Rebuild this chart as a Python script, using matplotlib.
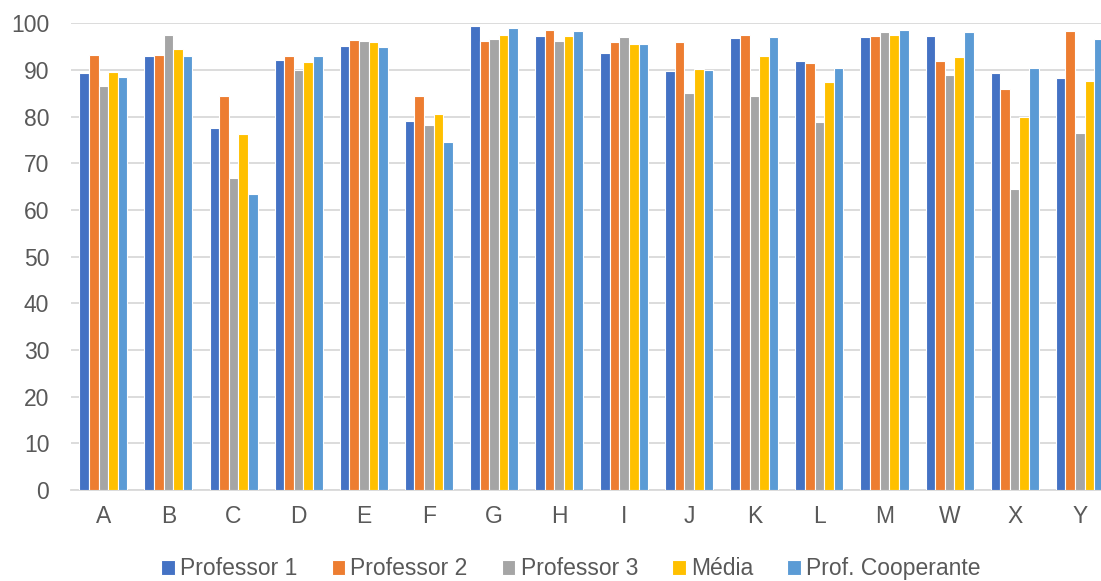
import numpy as np
import matplotlib.pyplot as plt

plt.rcParams['font.family'] = ['Liberation Sans', 'DejaVu Sans']

categorias = ['A', 'B', 'C', 'D', 'E', 'F', 'G', 'H', 'I', 'J', 'K', 'L', 'M', 'W', 'X', 'Y']
professor1 = [89.4, 92.9, 77.6, 92.1, 95.2, 79.1, 99.4, 97.2, 93.6, 89.8, 96.9, 91.9, 97.0, 97.2, 89.4, 88.3]
professor2 = [93.1, 93.2, 84.4, 92.9, 96.4, 84.5, 96.1, 98.6, 95.9, 95.9, 97.5, 91.4, 97.3, 91.9, 85.9, 98.4]
professor3 = [86.6, 97.5, 66.9, 90.0, 96.1, 78.2, 96.7, 96.1, 97.0, 85.1, 84.4, 78.9, 98.1, 88.9, 64.5, 76.5]
media = [89.6, 94.5, 76.3, 91.6, 95.9, 80.5, 97.4, 97.3, 95.5, 90.3, 92.9, 87.4, 97.5, 92.7, 79.9, 87.6]
cooperante = [88.5, 93.0, 63.5, 93.0, 95.0, 74.5, 99.0, 98.4, 95.5, 90.0, 97.0, 90.5, 98.5, 98.1, 90.5, 96.6]

series = [professor1, professor2, professor3, media, cooperante]
nomes = ['Professor 1', 'Professor 2', 'Professor 3', 'Média', 'Prof. Cooperante']
cores = ['#4472C4', '#ED7D31', '#A5A5A5', '#FFC000', '#5B9BD5']

fig = plt.figure(figsize=(11.01, 5.81), dpi=100)
# axes run a bit past the right edge, like the original
ax = fig.add_axes([0.0643, 0.1566, 0.946, 0.8034])

x = np.arange(len(categorias))
slot = 0.1475
for i, (vals, nome, cor) in enumerate(zip(series, nomes, cores)):
    ax.bar(x + (i - 2) * slot, vals, width=slot, color=cor, label=nome,
           edgecolor='white', linewidth=0.8, zorder=3)

ax.set_xlim(-0.5, len(categorias) - 0.5)
ax.set_ylim(0, 100)
ax.set_yticks(np.arange(0, 101, 10))
ax.set_xticks(x)
ax.set_xticklabels(categorias)
ax.yaxis.grid(True, color='#d9d9d9', linewidth=1.3, zorder=0)
for s in ['top', 'right', 'left']:
    ax.spines[s].set_visible(False)
ax.spines['bottom'].set_color('#d9d9d9')
ax.spines['bottom'].set_linewidth(1.3)
ax.tick_params(axis='both', length=0, labelsize=16.5, colors='#595959')
ax.tick_params(axis='x', pad=11)
ax.tick_params(axis='y', pad=15.5)

fig.legend(loc='center', bbox_to_anchor=(0.5186, 0.0207), ncol=5, frameon=False,
           fontsize=16.5, handlelength=0.58, handleheight=0.58, handletextpad=0.23,
           columnspacing=1.5, labelcolor='#595959', borderpad=0)

fig.savefig('out.png', dpi=100)
